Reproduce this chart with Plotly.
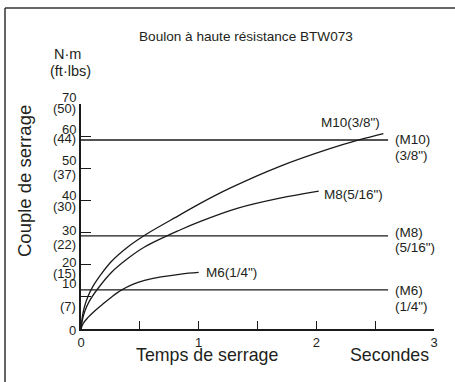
import plotly.graph_objects as go

# ---------------- data ----------------
m10_t = [0, 0.01, 0.03, 0.06, 0.1, 0.17, 0.258, 0.4, 0.555, 0.841, 1.01, 1.266, 1.69, 2.115, 2.37, 2.57]
m10_v = [0, 3.5, 7.0, 10.2, 13.2, 17.0, 21.0, 25.6, 29.5, 35.5, 39.0, 43.8, 50.6, 56.1, 58.9, 60.8]

m8_t = [0, 0.01, 0.03, 0.07, 0.144, 0.258, 0.4, 0.54, 0.841, 1.01, 1.334, 1.69, 2.02]
m8_v = [0, 2.5, 5.3, 8.6, 12.6, 17.6, 22.0, 25.5, 30.8, 33.4, 37.6, 40.7, 42.9]

m6_t = [0, 0.02, 0.06, 0.116, 0.19, 0.258, 0.343, 0.44, 0.54, 0.68, 0.85, 1.0]
m6_v = [0, 1.8, 3.6, 5.6, 7.9, 9.9, 12.1, 13.9, 15.1, 16.2, 17.1, 17.6]

target_t = [0, 2.61]
target_m10 = [58.8, 58.8]
target_m8 = [29.0, 29.0]
target_m6 = [12.2, 12.2]

y_ticks = [0, 10, 20, 30, 40, 50, 60, 70]
y_tick_nm = ["0", "10", "20", "30", "40", "50", "60", "70"]
y_tick_ftlbs = ["", "(7)", "(15)", "(22)", "(30)", "(37)", "(44)", "(50)"]
x_ticks = [0, 0.5, 1, 1.5, 2, 2.5, 3]
x_tick_text = ["0", "", "1", "", "2", "", "3"]

title_text = "Boulon à haute résistance BTW073"
y_title = "Couple de serrage"
x_title = "Temps de serrage"
x_unit = "Secondes"

# ---------------- layout geometry ----------------
W, H = 455, 382
L, R, T, B = 81, 434, 104, 329
PW, PH = R - L, B - T

def px(x):
    return (x - L) / PW

def py(y):
    return (B - y) / PH

FONT = "Liberation Sans, Arial, sans-serif"
TXT = "#231f20"
LINE = "#1a1a1a"

fig = go.Figure()
for tt, vv in [(m10_t, m10_v), (m8_t, m8_v), (m6_t, m6_v)]:
    fig.add_trace(go.Scatter(x=tt, y=vv, mode="lines",
                             line=dict(color=LINE, width=1.3, shape="spline", smoothing=1.0),
                             hoverinfo="skip", showlegend=False))
for vv in [target_m10, target_m8, target_m6]:
    fig.add_trace(go.Scatter(x=target_t, y=vv, mode="lines",
                             line=dict(color=LINE, width=1.3),
                             hoverinfo="skip", showlegend=False))

ann = []
def add(text, x, y, size=13, xa="center", ya="middle", angle=0, xref="paper", yref="paper", yshift=0):
    ann.append(dict(text=text, x=x, y=y, xref=xref, yref=yref, xanchor=xa, yanchor=ya,
                    showarrow=False, textangle=angle, yshift=yshift,
                    font=dict(family=FONT, size=size, color=TXT)))

# y tick labels (two-line: N·m above, ft·lbs below)
nm_shift = [-1, 13.6, 2.5, 2.1, 4.9, 8, 6.8, 7]
ft_shift = [0, -9.8, -8.6, -12.1, -5.8, -6.4, -2.6, -4.8]
for i, v in enumerate(y_ticks):
    add(y_tick_nm[i], px(77.5), v, size=13, xa="right", yref="y", yshift=nm_shift[i])
    if y_tick_ftlbs[i]:
        add(y_tick_ftlbs[i], px(78), v, size=13, xa="right", yref="y", yshift=ft_shift[i])

add("N·m", px(67.5), py(54), size=14.5)
add("(ft·lbs)", px(70.5), py(70.5), size=14.5)
add(title_text, px(246), py(36), size=13.6)
add(y_title, px(24), py(181), size=18.5, angle=-90)
add(x_title, px(206.5), py(355), size=17.8)
add(x_unit, px(389), py(355), size=17.8)

# curve labels
add('M10(3/8")', px(319), py(122.5), xa="left", size=13.5)
add('M8(5/16")', px(322), py(194), xa="left", size=13.5)
add('M6(1/4")', px(204), py(272), xa="left", size=13.5)
add("(M10)", px(393), py(139.3), xa="left", size=13.5)
add('(3/8")', px(393), py(155.3), xa="left", size=13.5)
add("(M8)", px(393), py(233), xa="left", size=13.5)
add('(5/16")', px(393), py(247.7), xa="left", size=13.5)
add("(M6)", px(393), py(290), xa="left", size=13.5)
add('(1/4")', px(393), py(306), xa="left", size=13.5)

shapes = [
    dict(type="line", xref="paper", yref="paper", x0=px(5), x1=px(455), y0=py(8), y1=py(8),
         line=dict(color="#333333", width=1.5)),
    dict(type="line", xref="paper", yref="paper", x0=px(5), x1=px(5), y0=py(8), y1=py(382),
         line=dict(color="#333333", width=1.5)),
]

fig.update_layout(
    width=W, height=H,
    margin=dict(l=L, r=W - R, t=T, b=H - B, pad=0),
    paper_bgcolor="white", plot_bgcolor="white",
    font=dict(family=FONT, size=13, color=TXT),
    annotations=ann, shapes=shapes,
    xaxis=dict(range=[0, 3], showgrid=False, zeroline=False, showline=True,
               linecolor=LINE, linewidth=1.5, ticks="inside", ticklen=8, tickwidth=1.3,
               tickcolor=LINE, tickvals=x_ticks, ticktext=x_tick_text,
               tickfont=dict(family=FONT, size=13, color=TXT), ticklabelstandoff=1,
               fixedrange=True),
    yaxis=dict(range=[0, 70], showgrid=False, zeroline=False, showline=True,
               linecolor=LINE, linewidth=1.5, ticks="inside", ticklen=10, tickwidth=1.3,
               tickcolor=LINE, tickvals=y_ticks, showticklabels=False, fixedrange=True),
)

fig.write_html("out.html", config={"displayModeBar": False},
               post_script="document.body.style.margin='0';document.body.style.overflow='hidden';")
